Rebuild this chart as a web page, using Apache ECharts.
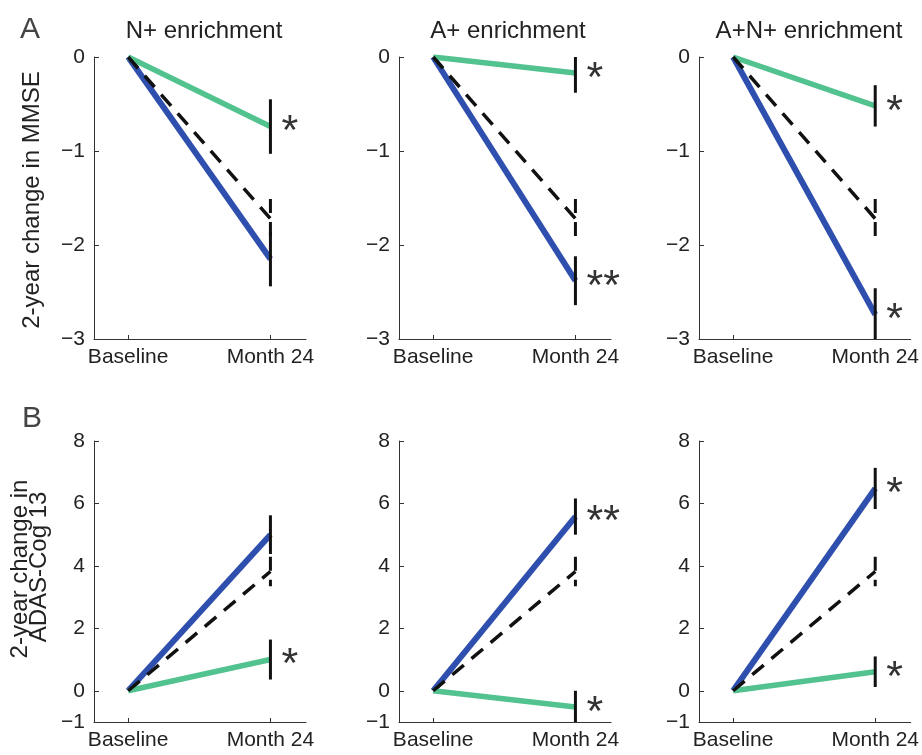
<!DOCTYPE html>
<html>
<head>
<meta charset="utf-8">
<script src="https://cdn.jsdelivr.net/npm/echarts@6/dist/echarts.min.js"></script>
<style>
  html, body { margin: 0; padding: 0; background: #fff; }
  #chart { width: 922px; height: 755px; }
</style>
</head>
<body>
<div id="chart"></div>
<script>
// x categories and panel titles
var categories = ['Baseline', 'Month 24'];
var panelTitles = ['N+ enrichment', 'A+ enrichment', 'A+N+ enrichment'];

// row A: 2-year change in MMSE (month 24 values; baseline is 0)
var mmsePlacebo = [-1.72, -1.72, -1.72];
var mmsePlaceboErr = [0.21, 0.21, 0.21];
var mmseBlue = [-2.15, -2.38, -2.74];
var mmseBlueErr = [0.29, 0.26, 0.28];
var mmseGreen = [-0.74, -0.17, -0.52];
var mmseGreenErr = [0.29, 0.21, 0.22];
var mmseBlueStars = ['', '**', '*'];
var mmseGreenStars = ['*', '*', '*'];
var mmseTicks = [-3, -2, -1, 0];

// row B: 2-year change in ADAS-Cog 13
var adasPlacebo = [3.82, 3.82, 3.82];
var adasPlaceboErr = [0.47, 0.47, 0.47];
var adasBlue = [5.0, 5.58, 6.48];
var adasBlueErr = [0.62, 0.58, 0.66];
var adasGreen = [1.0, -0.52, 0.61];
var adasGreenErr = [0.64, 0.52, 0.49];
var adasBlueStars = ['', '**', '*'];
var adasGreenStars = ['*', '*', '*'];
var adasTicks = [-1, 0, 2, 4, 6, 8];

var ink = '#222222';
var blue = '#2e4fad';
var green = '#52c28f';
var font = '"Liberation Sans", Arial, sans-serif';

var colLeft = [94, 399, 699];
var rowTop = [57, 441];
var rowHeight = [282, 281];

var rows = [
    { placebo: mmsePlacebo, placeboErr: mmsePlaceboErr, blue: mmseBlue, blueErr: mmseBlueErr,
      green: mmseGreen, greenErr: mmseGreenErr, blueStars: mmseBlueStars, greenStars: mmseGreenStars,
      ticks: mmseTicks, min: -3, max: 0 },
    { placebo: adasPlacebo, placeboErr: adasPlaceboErr, blue: adasBlue, blueErr: adasBlueErr,
      green: adasGreen, greenErr: adasGreenErr, blueStars: adasBlueStars, greenStars: adasGreenStars,
      ticks: adasTicks, min: -1, max: 8 }
];

var grids = [], xAxes = [], yAxes = [], series = [];

function fmtMinus(v) { return String(v).replace('-', '\u2212'); }

rows.forEach(function(row, r) {
    for (var c = 0; c < 3; c++) {
        var idx = r * 3 + c;
        grids.push({ left: colLeft[c], top: rowTop[r], width: 212, height: rowHeight[r] });
        xAxes.push({
            type: 'value', gridIndex: idx, min: -0.24, max: 1.25,
            axisLine: { onZero: false, lineStyle: { color: '#333', width: 1 } },
            axisTick: { inside: true, length: 4, customValues: [0, 1], lineStyle: { color: '#333' } },
            axisLabel: {
                customValues: [0, 1], margin: 8, color: ink, fontSize: 21, fontFamily: font,
                formatter: function(v) { return categories[Math.round(v)]; }
            },
            splitLine: { show: false }
        });
        yAxes.push({
            type: 'value', gridIndex: idx, min: row.min, max: row.max,
            axisLine: { show: true, onZero: false, lineStyle: { color: '#333', width: 1 } },
            axisTick: { inside: true, length: 5, customValues: row.ticks, lineStyle: { color: '#333' } },
            axisLabel: { customValues: row.ticks, margin: 9, color: ink, fontSize: 21, fontFamily: font, formatter: fmtMinus },
            splitLine: { show: false }
        });

        series.push({
            type: 'line', xAxisIndex: idx, yAxisIndex: idx, symbol: 'none', silent: true,
            data: [[0, 0], [1, row.blue[c]]],
            lineStyle: { color: blue, width: 6 }, z: 2
        });
        series.push({
            type: 'line', xAxisIndex: idx, yAxisIndex: idx, symbol: 'none', silent: true,
            data: [[0, 0], [1, row.green[c]]],
            lineStyle: { color: green, width: 5.5 }, z: 2
        });
        series.push({
            type: 'line', xAxisIndex: idx, yAxisIndex: idx, symbol: 'none', silent: true,
            data: [[0, 0], [1, row.placebo[c]]],
            lineStyle: { color: '#111', width: 3.5, type: [15, 10] }, z: 3
        });

        (function(stars) {
            series.push({
                type: 'custom', xAxisIndex: idx, yAxisIndex: idx, silent: true, z: 4,
                data: [
                    [1, row.placebo[c], row.placeboErr[c]],
                    [1, row.blue[c], row.blueErr[c]],
                    [1, row.green[c], row.greenErr[c]]
                ],
                renderItem: function(params, api) {
                    var x = api.value(0), m = api.value(1), e = api.value(2);
                    var cs = params.coordSys;
                    var top = api.coord([x, m + e]), bot = api.coord([x, m - e]), mid = api.coord([x, m]);
                    var y1 = Math.max(top[1], cs.y), y2 = Math.min(bot[1], cs.y + cs.height);
                    var children = [{
                        type: 'line',
                        shape: { x1: mid[0], y1: y1, x2: mid[0], y2: y2 },
                        style: { stroke: '#111', lineWidth: 3, lineDash: params.dataIndex === 0 ? [14, 9] : null }
                    }];
                    var s = stars[params.dataIndex];
                    if (s) {
                        children.push({
                            type: 'text',
                            x: mid[0] + 11, y: mid[1] + 6,
                            style: { text: s, fill: '#333', font: '43px ' + font, align: 'left', verticalAlign: 'middle' }
                        });
                    }
                    return { type: 'group', children: children };
                }
            });
        })(['', row.blueStars[c], row.greenStars[c]]);
    }
});

var graphics = [
    { type: 'text', x: 20, y: 15, style: { text: 'A', fill: '#444', font: '30px ' + font } },
    { type: 'text', x: 22, y: 404, style: { text: 'B', fill: '#444', font: '30px ' + font } },
    { type: 'text', x: 32, y: 200, rotation: Math.PI / 2,
      style: { text: '2-year change in MMSE', fill: ink, font: '24px ' + font, align: 'center', verticalAlign: 'middle' } },
    { type: 'text', x: 20, y: 569, rotation: Math.PI / 2,
      style: { text: '2-year change in', fill: ink, font: '24px ' + font, align: 'center', verticalAlign: 'middle' } },
    { type: 'text', x: 39, y: 567, rotation: Math.PI / 2,
      style: { text: 'ADAS-Cog 13', fill: ink, font: '24px ' + font, align: 'center', verticalAlign: 'middle' } }
];
var titleCenters = [204, 508, 809];
panelTitles.forEach(function(t, i) {
    graphics.push({ type: 'text', x: titleCenters[i], y: 31,
        style: { text: t, fill: ink, font: '24px ' + font, align: 'center', verticalAlign: 'middle' } });
});

var chart = echarts.init(document.getElementById('chart'), null, { renderer: 'canvas' });
chart.setOption({
    animation: false,
    backgroundColor: '#fff',
    grid: grids,
    xAxis: xAxes,
    yAxis: yAxes,
    series: series,
    graphic: graphics
});
window.addEventListener('resize', function() { chart.resize(); });
</script>
</body>
</html>
